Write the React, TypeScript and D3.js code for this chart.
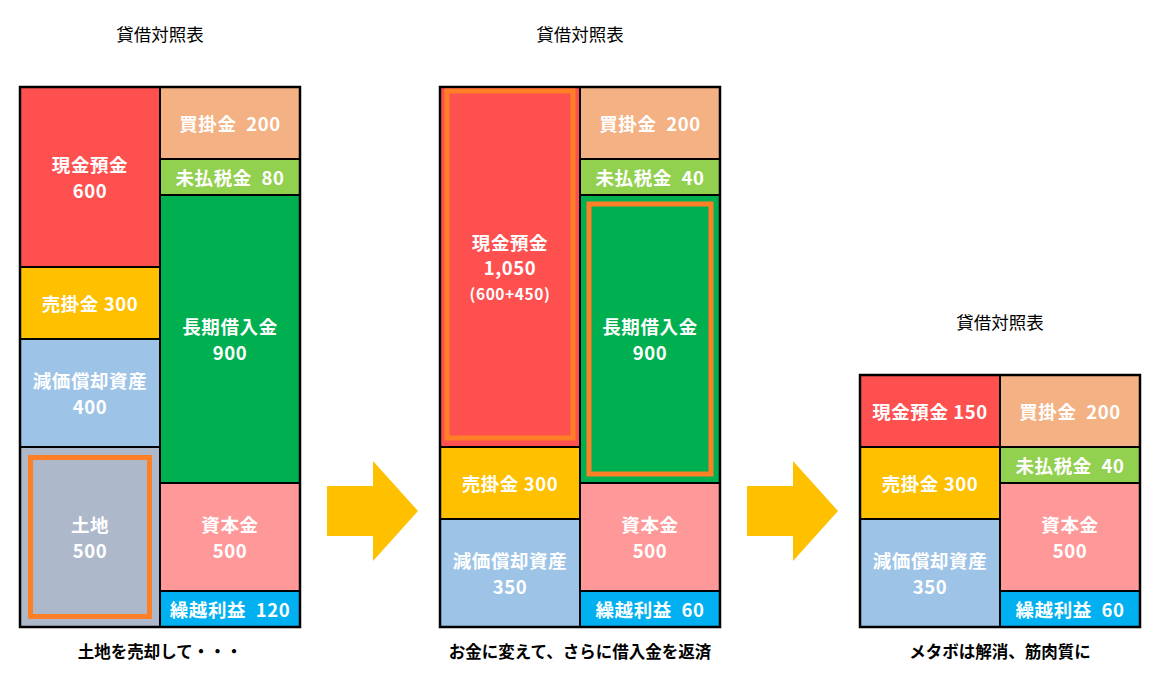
import React from 'react';
import * as d3 from 'd3';

// 勘定科目
const assetNames = ['現金預金', '売掛金', '減価償却資産', '土地'];
const liabNames = ['買掛金', '未払税金', '長期借入金', '資本金', '繰越利益'];

// 各表の金額（0 は表示しない）
const sheet1Assets = [600, 300, 400, 500];
const sheet1Liabs = [200, 80, 900, 500, 120];
const sheet2Assets = [1050, 300, 350, 0];
const sheet2Liabs = [200, 40, 900, 500, 60];
const sheet3Assets = [150, 300, 350, 0];
const sheet3Liabs = [200, 40, 0, 500, 60];

// 図の上でのブロックの大きさ（目盛り単位）
const sheet1AssetBlocks = [5, 2, 3, 5];
const sheet1LiabBlocks = [2, 1, 8, 3, 1];
const sheet2AssetBlocks = [10, 2, 3, 0];
const sheet2LiabBlocks = [2, 1, 8, 3, 1];
const sheet3AssetBlocks = [2, 2, 3, 0];
const sheet3LiabBlocks = [2, 1, 0, 3, 1];

const sheet2Notes = ['(600+450)', '', '', ''];
const titles = ['貸借対照表', '貸借対照表', '貸借対照表'];
const captions = ['土地を売却して・・・', 'お金に変えて、さらに借入金を返済', 'メタボは解消、筋肉質に'];

// 強調枠（表番号, 側, 科目）
const highlights = [
  { sheet: 0, side: 'asset', name: '土地' },
  { sheet: 1, side: 'asset', name: '現金預金' },
  { sheet: 1, side: 'liab', name: '長期借入金' },
];

const colors: Record<string, string> = {
  現金預金: '#FF5050',
  売掛金: '#FFC000',
  減価償却資産: '#9DC3E6',
  土地: '#ADB9CA',
  買掛金: '#F4B183',
  未払税金: '#92D050',
  長期借入金: '#00B050',
  資本金: '#FF9999',
  繰越利益: '#00B0F0',
};

const sheets = [
  { assets: sheet1Assets, liabs: sheet1Liabs, aBlocks: sheet1AssetBlocks, lBlocks: sheet1LiabBlocks, notes: ['', '', '', ''] },
  { assets: sheet2Assets, liabs: sheet2Liabs, aBlocks: sheet2AssetBlocks, lBlocks: sheet2LiabBlocks, notes: sheet2Notes },
  { assets: sheet3Assets, liabs: sheet3Liabs, aBlocks: sheet3AssetBlocks, lBlocks: sheet3LiabBlocks, notes: ['', '', '', ''] },
];

const W = 1155;
const H = 673;
const FONT = '"Noto Sans CJK JP", "Noto Sans", sans-serif';
const colW = 140;
const sheetX = d3.scaleLinear().domain([0, 1]).range([20, 440]);
const y = d3.scaleLinear().domain([0, 15]).range([627, 87]);
const fmt = d3.format(',');

type Cell = { name: string; value: number; note: string; y0: number; y1: number; side: string };

function stackCells(names: string[], values: number[], blocks: number[], notes: string[], side: string): Cell[] {
  const total = d3.sum(blocks);
  let acc = total;
  const cells: Cell[] = [];
  names.forEach((n, i) => {
    if (!blocks[i]) return;
    cells.push({ name: n, value: values[i], note: notes[i] || '', y0: acc, y1: acc - blocks[i], side });
    acc -= blocks[i];
  });
  return cells;
}

const CellBlock = ({ c, x }: { c: Cell; x: number }) => {
  const top = y(c.y0);
  const bot = y(c.y1);
  const h = bot - top;
  const cx = x + colW / 2;
  const cy = (top + bot) / 2;
  const gap = c.side === 'liab' ? '\u00a0\u00a0' : ' ';
  const lines: { t: string; size: number }[] = [];
  if (h < 90) {
    lines.push({ t: c.name + gap + fmt(c.value), size: 18.5 });
  } else {
    lines.push({ t: c.name, size: 18.5 });
    lines.push({ t: fmt(c.value), size: 18.5 });
    if (c.note) lines.push({ t: c.note, size: 15.5 });
  }
  const lh = 25.5;
  const start = cy - ((lines.length - 1) * lh) / 2;
  return (
    <g>
      <rect x={x} y={top} width={colW} height={h} fill={colors[c.name]} stroke="#000" strokeWidth={2} />
      {lines.map((l, i) => (
        <text key={i} x={cx} y={start + i * lh} textAnchor="middle" dominantBaseline="central"
          fontSize={l.size} fontWeight="bold" fill="#fff" fontFamily={FONT} letterSpacing={0.6}>{l.t}</text>
      ))}
    </g>
  );
};

const App = () => {
  return (
    <svg width={W} height={H} style={{ position: 'absolute', left: 0, top: 0, background: '#fff' }}>
      {sheets.map((s, si) => {
        const x0 = sheetX(si);
        const aCells = stackCells(assetNames, s.assets, s.aBlocks, s.notes, 'asset');
        const lCells = stackCells(liabNames, s.liabs, s.lBlocks, [], 'liab');
        const total = d3.sum(s.aBlocks);
        const top = y(total);
        return (
          <g key={si}>
            <text x={x0 + colW} y={top - 54} textAnchor="middle" dominantBaseline="central"
              fontSize={17.5} fill="#000" fontFamily={FONT}>{titles[si]}</text>
            {aCells.map((c) => <CellBlock key={c.name} c={c} x={x0} />)}
            {lCells.map((c) => <CellBlock key={c.name} c={c} x={x0 + colW} />)}
            <rect x={x0} y={top} width={colW * 2} height={y(0) - top} fill="none" stroke="#000" strokeWidth={2.5} />
            {highlights.filter((h) => h.sheet === si).map((h) => {
              const cell = (h.side === 'asset' ? aCells : lCells).find((c) => c.name === h.name)!;
              const cxl = h.side === 'asset' ? x0 : x0 + colW;
              const inset = si === 0 ? 10.5 : h.side === 'asset' ? 7 : 9;
              const t = y(cell.y0);
              const b = y(cell.y1);
              return (
                <rect key={h.name} x={cxl + inset} y={t + inset - (h.side === 'asset' && si === 1 ? 3 : 0)}
                  width={colW - inset * 2} height={b - t - inset * 2 + (h.side === 'asset' && si === 1 ? 1 : 0)}
                  fill="none" stroke="#FF7F27" strokeWidth={5} />
              );
            })}
            <text x={x0 + colW} y={651} textAnchor="middle" dominantBaseline="central"
              fontSize={16.5} fontWeight="bold" fill="#000" fontFamily={FONT}>{captions[si]}</text>
          </g>
        );
      })}
      {[0, 1].map((i) => {
        const gx = sheetX(i) + colW * 2 + 27;
        const cy = 511;
        const pts: [number, number][] = [
          [gx, cy - 25], [gx + 46, cy - 25], [gx + 46, cy - 50], [gx + 91, cy],
          [gx + 46, cy + 50], [gx + 46, cy + 25], [gx, cy + 25],
        ];
        return <path key={i} d={d3.line()(pts)! + 'Z'} fill="#FFC000" />;
      })}
    </svg>
  );
};

export default App;
